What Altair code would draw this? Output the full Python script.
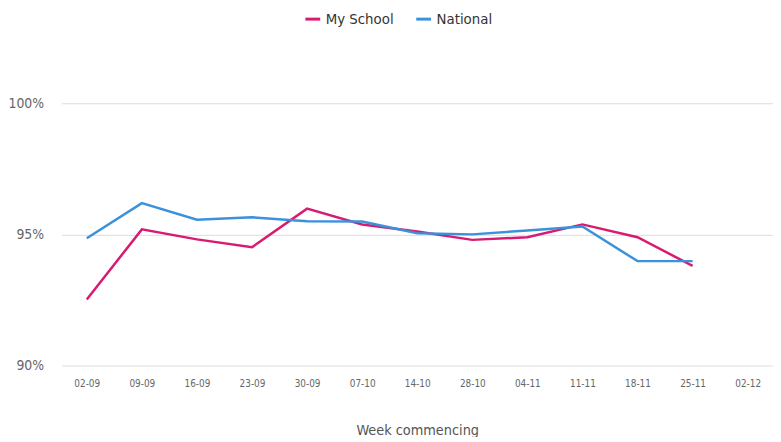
import altair as alt
import pandas as pd

weeks = ["02-09", "09-09", "16-09", "23-09", "30-09", "07-10", "14-10",
         "28-10", "04-11", "11-11", "18-11", "25-11", "02-12"]
my_school = [92.52, 95.19, 94.81, 94.51, 95.98, 95.38, 95.11, 94.79, 94.89, 95.38, 94.89, 93.8, None]
national = [94.85, 96.19, 95.56, 95.65, 95.5, 95.49, 95.04, 95.0, 95.15, 95.3, 93.98, 93.98, None]
series = ["My School", "National"]
colors = ["#d81b72", "#3b91db"]

rows = []
for i, w in enumerate(weeks):
    rows.append({"week": w, "series": series[0], "value": my_school[i]})
    rows.append({"week": w, "series": series[1], "value": national[i]})
df = pd.DataFrame(rows)

font = "DejaVu Sans Condensed, Roboto, sans-serif"

chart = alt.Chart(df).mark_line(strokeWidth=2.5).encode(
    x=alt.X("week:N", sort=weeks,
            scale=alt.Scale(type="point", domain=weeks, padding=0.46),
            axis=alt.Axis(title="Week commencing", labelAngle=0, ticks=False, domain=False,
                          grid=False, labelFontSize=10, labelColor="#666", labelPadding=13,
                          titleFontSize=14.5, titleColor="#555", titleFontWeight="normal",
                          titlePadding=36, labelFont=font, titleFont=font)),
    y=alt.Y("value:Q", scale=alt.Scale(domain=[90, 100], nice=False, zero=False),
            axis=alt.Axis(title=None, values=[90, 95, 100], labelExpr="datum.value + '%'",
                          ticks=False, domain=False, gridColor="#dddddd", labelFontSize=14,
                          labelColor="#666", labelPadding=18, labelFont=font)),
    color=alt.Color("series:N", scale=alt.Scale(domain=series, range=colors),
                    legend=alt.Legend(title=None, orient="none", legendX=245, legendY=-94,
                                      direction="horizontal", symbolType="stroke",
                                      symbolStrokeWidth=3, symbolSize=225, labelFontSize=15,
                                      labelColor="#333", labelFont=font, columnPadding=16,
                                      symbolOffset=0)),
).transform_filter("isValid(datum.value)").properties(
    width=719, height=265,
    autosize=alt.AutoSizeParams(type="none"),
    padding={"left": 54, "top": 94, "right": 0, "bottom": 70},
).configure_view(stroke=None)

chart.save("out.html", embed_options={"renderer": "svg", "actions": False})
